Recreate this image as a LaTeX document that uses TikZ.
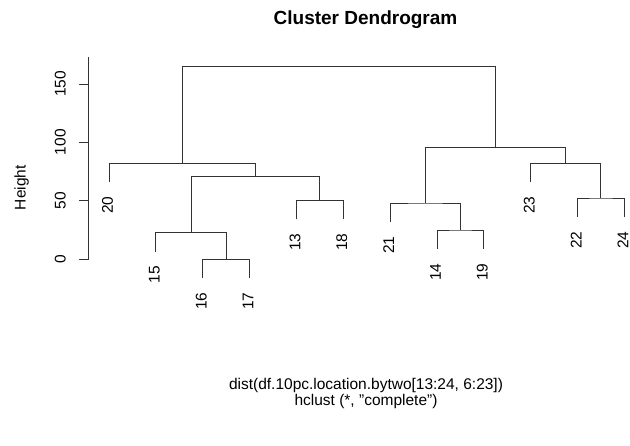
\documentclass[tikz,border=0pt]{standalone}
\usepackage{fontspec}
\setmainfont{Liberation Sans}
\begin{document}
\begin{tikzpicture}[x=1pt,y=-1pt,
  link/.style={draw=black!80, line width=0.9pt},
  txt/.style={inner sep=0pt, font=\fontsize{15.5}{18}\selectfont},
  leaflab/.style={txt, rotate=90, anchor=east},
  ticklab/.style={txt, rotate=90, anchor=center}]
\useasboundingbox (0,0) rectangle (630,446);
% title and captions
\node[anchor=base, inner sep=0pt, font=\fontsize{19}{22}\selectfont\bfseries] (title) at (365.5,25) {Cluster Dendrogram};
\node[txt, anchor=base] (sub1) at (366,389.3) {dist(df.10pc.location.bytwo[13:24, 6:23])};
\node[txt, anchor=base] (sub2) at (366,405.7) {hclust (*, "complete")};
\node[txt, rotate=90, anchor=center] (ylab) at (21.7,187.7) {Height};
% axis
\coordinate (axb) at (88.5,259.3);
\coordinate (axt) at (88.5,56.7);
\draw[link] (axb) -- (axt);
\foreach \v/\yy in {0/259.3,50/200.8,100/142.3,150/84} {
  \coordinate (tk\v) at (88.5,\yy);
  \coordinate (tke\v) at (78.5,\yy);
  \draw[link] (tk\v) -- (tke\v);
  \node[ticklab] (tl\v) at (60.3,\yy) {\v};
}
% leaves (x, leaf end y)
\foreach \n/\xx/\yy in {20/109/182.5,15/155.85/251.9,16/202.7/278.5,17/249.55/278.5,
  13/296.4/219.5,18/343.25/219.5,21/390.1/222.2,14/436.95/249.2,19/483.8/249.2,
  23/530.65/182.5,22/577.5/217.2,24/624.35/217.2} {
  \coordinate (l\n) at (\xx,\yy);
  \node[leaflab] (t\n) at (\xx-1.4,\yy+14) {\n};
}
% merges
\coordinate (m1617) at (226.1,259.3);
\coordinate (m15) at (191.0,232.7);
\coordinate (m1318) at (319.8,200.3);
\coordinate (mA) at (255.4,176.7);
\coordinate (mB) at (182.2,163.3);
\coordinate (m1419) at (460.4,230);
\coordinate (m21) at (425.2,203);
\coordinate (m2224) at (600.9,198);
\coordinate (m23) at (565.8,163.3);
\coordinate (mC) at (495.5,147.3);
\coordinate (mTop) at (338.9,66.7);
\draw[link] (l16) |- (m1617) -| (l17);
\draw[link] (l15) |- (m15) -| (m1617);
\draw[link] (l13) |- (m1318) -| (l18);
\draw[link] (m15) |- (mA) -| (m1318);
\draw[link] (l20) |- (mB) -| (mA);
\draw[link] (l14) |- (m1419) -| (l19);
\draw[link] (l21) |- (m21) -| (m1419);
\draw[link] (l22) |- (m2224) -| (l24);
\draw[link] (l23) |- (m23) -| (m2224);
\draw[link] (m21) |- (mC) -| (m23);
\draw[link] (mB) |- (mTop) -| (mC);
\end{tikzpicture}
\end{document}
